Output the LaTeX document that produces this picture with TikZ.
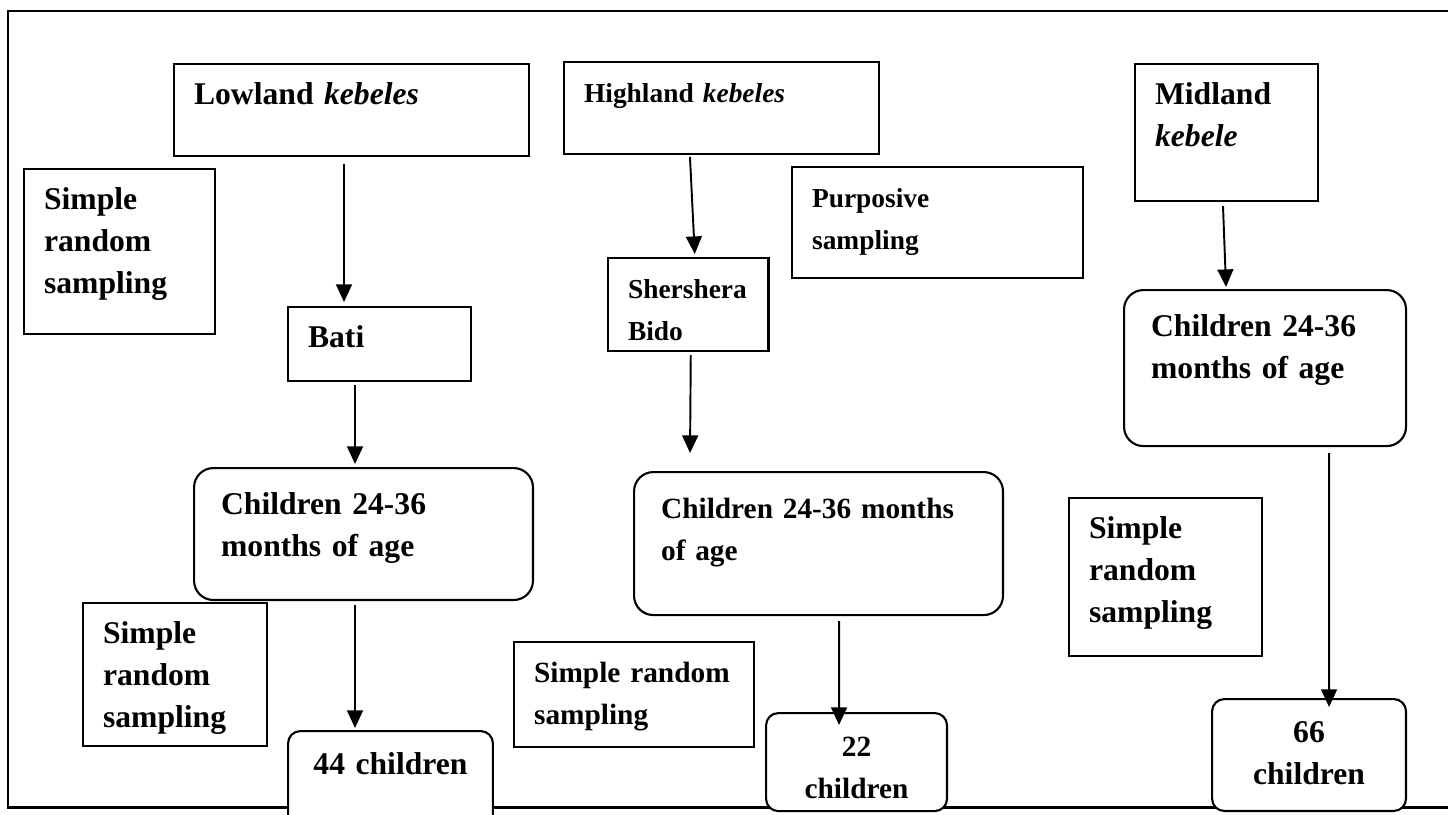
\documentclass[tikz,border=0pt]{standalone}
\usepackage{fontspec}
\setmainfont{Liberation Serif}
\usetikzlibrary{arrows.meta}

\begin{document}
\begin{tikzpicture}[x=0.02cm,y=-0.02cm,
    box/.style={draw,fill=white,line width=1.2pt,anchor=north west,align=left,inner xsep=11.4pt,inner ysep=0pt,text height=23.3pt},
    rbox/.style={box,rounded corners=11pt,inner xsep=15.4pt,text height=26.5pt},
    nbox/.style={box,rounded corners=7pt,align=center,inner xsep=6pt,text height=25pt},
    fbig/.style={font=\bfseries\fontsize{18}{23.8}\selectfont},
    fmid/.style={font=\bfseries\fontsize{16.7}{23.8}\selectfont},
    fsmall/.style={font=\bfseries\fontsize{15.6}{23.8}\selectfont},
    arr/.style={line width=1.1pt,-{Triangle[length=10pt,width=9pt]}}]
    \useasboundingbox (0,0) rectangle (1448,815);
    \draw[line width=1.7pt] (1448,11) -- (8,11) -- (8,807) -- (1448,807); % frame
    % lowland
    \node[box,fbig,text width=179.2pt,text depth=29pt] (low) at (173,63) {Lowland \textit{kebeles}};
    \node[box,fbig,text width=85.9pt,text depth=70.6pt] (srsA) at (23,168) {Simple\\random\\sampling};
    \node[box,fbig,text width=81.3pt,text depth=18.8pt] (bati) at (287,306) {Bati};
    \node[rbox,fbig,text width=162.1pt,text depth=48.6pt] (kid1) at (193,467) {Children 24-36\\months of age};
    \node[box,fbig,text width=81.9pt,text depth=58.1pt] (srsB) at (82,602) {Simple\\random\\sampling};
    \node[nbox,fbig,text width=104.6pt,text depth=34.7pt] (n44) at (287,730) {44 children};
    % highland
    \node[box,fsmall,text width=156.4pt,text depth=29pt] (high) at (563,61) {Highland \textit{kebeles}};
    \node[box,fsmall,text width=68.5pt,text depth=29.6pt] (sher) at (607,257) {Shershera\\Bido};
    \node[box,fsmall,text width=142.8pt,text depth=39.9pt] (purp) at (791,166) {Purposive\\sampling};
    \node[rbox,fmid,text width=179.2pt,text depth=54.9pt] (kid2) at (633,471) {Children 24-36 months\\of age};
    \node[box,fmid,text width=113.8pt,text depth=36.4pt] (srsC) at (513,641) {Simple random\\sampling};
    \node[nbox,fmid,text width=91pt,text depth=30.8pt] (n22) at (765,712) {22\\children};
    % midland
    \node[box,fbig,text width=81.3pt,text depth=54.7pt] (midl) at (1134,63) {Midland\\\textit{kebele}};
    \node[rbox,fbig,text width=129.7pt,text depth=62.3pt] (kid3) at (1123,289) {Children 24-36\\months of age};
    \node[box,fbig,text width=87pt,text depth=66.6pt] (srsD) at (1068,497) {Simple\\random\\sampling};
    \node[nbox,fbig,text width=98.4pt,text depth=38.7pt] (n66) at (1211,698) {66\\children};
    % arrows
    \draw[arr] ([shift={(-7.5,7)}]low.south) -- ([shift={(-35.5,-4)}]bati.north);
    \draw[arr] ([shift={(-24.5,3)}]bati.south) -- ([shift={(-8.5,-3)}]kid1.north);
    \draw[arr] ([shift={(-8.5,4)}]kid1.south) -- ([shift={(-35.5,-2)}]n44.north);
    \draw[arr] ([shift={(-31.5,2)}]high.south) -- ([shift={(6.5,-3)}]sher.north);
    \draw[arr] ([shift={(2.5,3)}]sher.south) -- ([shift={(-128.5,-18)}]kid2.north);
    \draw[arr] ([shift={(20.5,5)}]kid2.south) -- ([shift={(-17.5,13)}]n22.north);
    \draw[arr] ([shift={(-3.5,4)}]midl.south) -- ([shift={(-39,-2)}]kid3.north);
    \draw[arr] ([shift={(64,6)}]kid3.south) -- ([shift={(20,9)}]n66.north);
\end{tikzpicture}
\end{document}
